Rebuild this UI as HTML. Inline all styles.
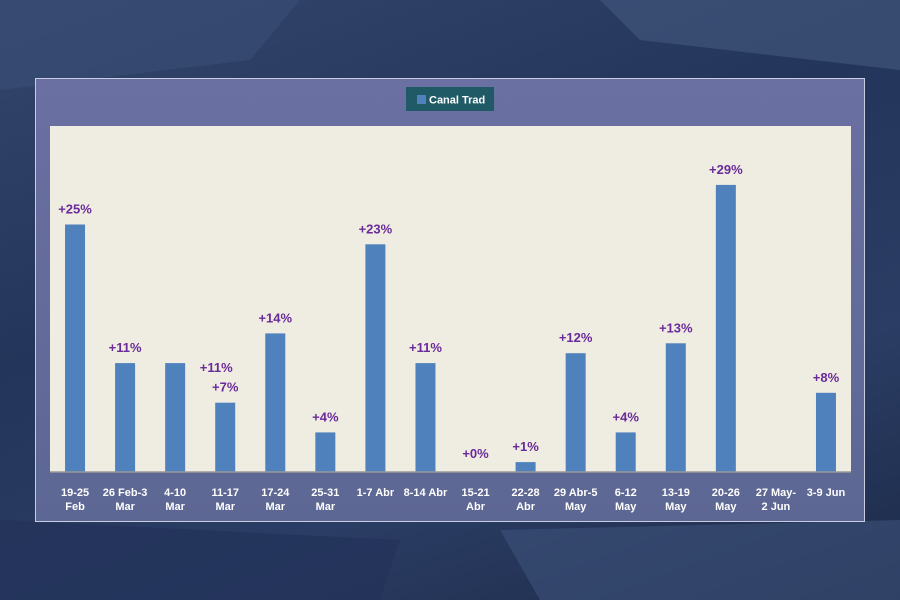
<!DOCTYPE html>
<html><head><meta charset="utf-8"><style>
body{margin:0;width:900px;height:600px;overflow:hidden;font-family:"Liberation Sans",sans-serif;}
#bg{position:absolute;left:0;top:0;width:900px;height:600px;background:linear-gradient(160deg,#34466c 0%,#23355a 40%,#2b3d64 70%,#1c2a48 100%);}
#panel{position:absolute;left:35px;top:78px;width:830px;height:444px;background:linear-gradient(#6a70a2,#5d6793);border:1px solid #c8cde0;box-sizing:border-box;}
</style></head><body>
<div id="bg">
<svg width="900" height="600" style="position:absolute;left:0;top:0">
<polygon points="0,0 300,0 250,60 0,90" fill="#3a4f76" opacity="0.6"/>
<polygon points="600,0 900,0 900,70 640,40" fill="#45597e" opacity="0.6"/>
<polygon points="0,520 400,540 380,600 0,600" fill="#22325a" opacity="0.7"/>
<polygon points="500,530 900,520 900,600 540,600" fill="#3d5179" opacity="0.6"/>
</svg></div>
<div id="panel"></div>
<svg id="chart" width="900" height="600" style="position:absolute;left:0;top:0">
<rect x="50" y="126" width="801" height="346" fill="#efede1"/>
<g>
<rect x="406" y="87" width="88" height="24" fill="#1f5a66"/>
<rect x="417" y="95" width="9" height="9" fill="#4f81bd"/>
<text x="429" y="103.5" font-size="11" font-weight="bold" fill="#fff">Canal Trad</text>
</g>
<g id="bars"></g><g id="labels"></g><g id="xlabels"></g>
<line x1="50" y1="472" x2="851" y2="472" stroke="#999" stroke-width="1.5"/>
</svg>
<script>
const cats1=["19-25","26 Feb-3","4-10","11-17","17-24","25-31","1-7 Abr","8-14 Abr","15-21","22-28","29 Abr-5","6-12","13-19","20-26","27 May-","3-9 Jun"];
const cats2=["Feb","Mar","Mar","Mar","Mar","Mar","","","Abr","Abr","May","May","May","May","2 Jun",""];
const values=[25,11,11,7,14,4,23,11,0,1,12,4,13,29,0,8];
const labels=["+25%","+11%","","+7%","+14%","+4%","+23%","+11%","+0%","+1%","+12%","+4%","+13%","+29%","","+8%"];
const ns="http://www.w3.org/2000/svg";
const x0=50,w=801,y0=472,ppu=9.9,bw=20;
const xc=i=>x0+w/cats1.length*(i+0.5);
const y=v=>y0-v*ppu;
const B=document.getElementById('bars'),L=document.getElementById('labels'),X=document.getElementById('xlabels');
function t(p,x,yy,s,sz,fill){const e=document.createElementNS(ns,'text');e.setAttribute('x',x);e.setAttribute('y',yy);e.setAttribute('text-anchor','middle');e.setAttribute('font-size',sz);e.setAttribute('font-weight','bold');e.setAttribute('fill',fill);e.textContent=s;p.appendChild(e);return e;}
values.forEach((v,i)=>{
 const r=document.createElementNS(ns,'rect');
 r.setAttribute('x',xc(i)-bw/2);r.setAttribute('y',y(v));r.setAttribute('width',bw);r.setAttribute('height',y0-y(v));r.setAttribute('fill','#4f81bd');
 
 
 B.appendChild(r);
 if(labels[i]){const e=t(L,xc(i),y(v)-11-(v===0?3:0),labels[i],13,'#6a2a9a');
 
 }
 const a=t(X,xc(i),496,cats1[i],11,'#fff');
 
 
 if(cats2[i]){const b=t(X,xc(i),510,cats2[i],11,'#fff');
 
 }
});
const ex=t(L,xc(3)-9,y(values[2])+9,"+11%",13,'#6a2a9a');


</script>
</body></html>
